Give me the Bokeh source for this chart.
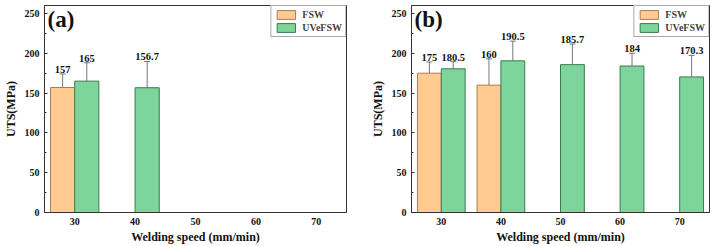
from bokeh.plotting import figure
from bokeh.models import ColumnDataSource, Whisker, TeeHead, Label, SingleIntervalTicker, Range1d, Legend, LegendItem
from bokeh.layouts import row
from bokeh.embed import file_html
from bokeh.resources import INLINE
from bokeh.core.properties import value

# ---- data ----
speeds_a_fsw = [30]
uts_a_fsw = [157]
err_a_fsw = [17]
speeds_a_uve = [30, 40]
uts_a_uve = [165, 156.7]
err_a_uve = [23, 33]

speeds_b_fsw = [30, 40]
uts_b_fsw = [175, 160]
err_b_fsw = [14, 33]
speeds_b_uve = [30, 40, 50, 60, 70]
uts_b_uve = [180.5, 190.5, 185.7, 184, 170.3]
err_b_uve = [9, 24.7, 26, 16, 27]

x_ticks = [30, 40, 50, 60, 70]
panel_labels = ["(a)", "(b)"]

FONT = "Liberation Serif"
ORANGE = "#FFCB90"
ORANGE_EDGE = "#A87E55"
GREEN = "#7ED59B"
GREEN_EDGE = "#3A7A50"
BAR_W = 4


def make_panel(tag, fsw, uve, width, bl, br):
    p = figure(width=width, height=246, output_backend="svg", toolbar_location=None,
               x_range=Range1d(25, 75), y_range=Range1d(0, 260),
               min_border_left=bl, min_border_right=br, min_border_top=5, min_border_bottom=34)
    p.xgrid.visible = False
    p.ygrid.visible = False
    p.outline_line_color = "#333333"
    p.outline_line_width = 1

    items = []
    for (sp, vals, errs), fill, edge, name, off in [
        (fsw, ORANGE, ORANGE_EDGE, "FSW", -BAR_W / 2),
        (uve, GREEN, GREEN_EDGE, "UVeFSW", BAR_W / 2),
    ]:
        xs = [s + off for s in sp]
        src = ColumnDataSource(dict(
            x=xs, top=vals,
            upper=[v + e for v, e in zip(vals, errs)],
            lower=[v - e for v, e in zip(vals, errs)],
            lab=[("%g" % v) for v in vals],
        ))
        r = p.vbar(x="x", top="top", width=BAR_W, bottom=0, source=src,
                   fill_color=fill, line_color=edge, line_width=1)
        items.append(LegendItem(label=name, renderers=[r]))
        w = Whisker(base="x", upper="upper", lower="lower", source=src, dimension="height",
                    line_color="#555555", line_width=0.8,
                    upper_head=TeeHead(size=6, line_color="#555555", line_width=0.8),
                    lower_head=TeeHead(size=6, line_color="#555555", line_width=0.8))
        p.add_layout(w)
        p.text(x="x", y="upper", text="lab", source=src, text_font=value(FONT),
               text_font_style="bold", text_font_size="10.5px", text_align="center",
               text_baseline="bottom", y_offset=-1, text_color="#111111")

    legend = Legend(items=items, location="top_right", margin=0, padding=3, spacing=2,
                    glyph_width=23, glyph_height=11, label_height=11, label_standoff=5,
                    label_text_font=FONT, label_text_font_style="bold", label_text_font_size="10px",
                    border_line_color="#555555", border_line_width=1, background_fill_alpha=1)
    p.add_layout(legend)

    p.add_layout(Label(x=25.5, y=258, text=tag, text_font=FONT, text_font_style="bold",
                       text_font_size="23px", text_baseline="top", text_color="#111111"))

    p.xaxis.ticker = x_ticks
    p.xaxis.major_tick_in = 0
    p.xaxis.major_tick_out = 0
    p.xaxis.minor_tick_in = 0
    p.xaxis.minor_tick_out = 0
    p.xaxis.axis_label = "Welding speed (mm/min)"
    p.xaxis.major_label_standoff = 5
    p.xaxis.axis_label_standoff = 2

    p.yaxis.ticker = SingleIntervalTicker(interval=50, num_minor_ticks=2)
    p.yaxis.major_tick_in = 3
    p.yaxis.major_tick_out = 0
    p.yaxis.minor_tick_in = 2
    p.yaxis.minor_tick_out = 0
    p.yaxis.axis_label = "UTS(MPa)"
    p.yaxis.major_label_standoff = 5
    p.yaxis.axis_label_standoff = 4

    for ax in (p.xaxis, p.yaxis):
        ax.axis_line_color = "#333333"
        ax.major_tick_line_color = "#333333"
        ax.minor_tick_line_color = "#333333"
        ax.major_label_text_font = FONT
        ax.major_label_text_font_style = "bold"
        ax.major_label_text_font_size = "10px"
        ax.major_label_text_color = "#111111"
        ax.axis_label_text_font = FONT
        ax.axis_label_text_font_style = "bold"
        ax.axis_label_text_font_size = "12px"
        ax.axis_label_text_color = "#111111"
    return p


pa = make_panel(panel_labels[0], (speeds_a_fsw, uts_a_fsw, err_a_fsw),
                (speeds_a_uve, uts_a_uve, err_a_uve), 360, 42, 14)
pb = make_panel(panel_labels[1], (speeds_b_fsw, uts_b_fsw, err_b_fsw),
                (speeds_b_uve, uts_b_uve, err_b_uve), 355, 51, 6)

layout = row(pa, pb)
open("out.html", "w").write(file_html(layout, INLINE))
